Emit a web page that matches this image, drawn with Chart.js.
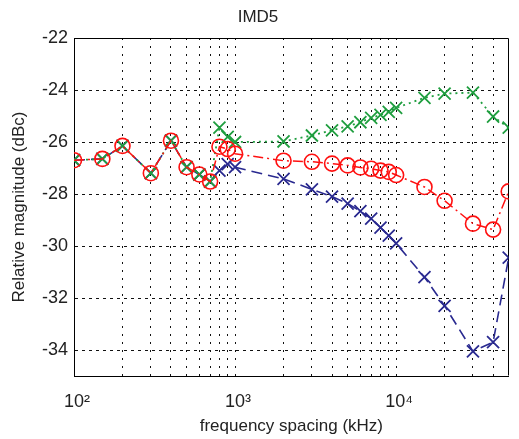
<!DOCTYPE html>
<html>
<head>
<meta charset="utf-8">
<title>IMD5</title>
<script src="https://cdn.jsdelivr.net/npm/chart.js@4.4.1/dist/chart.umd.min.js"></script>
<style>
  html, body { margin: 0; padding: 0; background: #fff; }
  #chart { display: block; }
</style>
</head>
<body>
<canvas id="chart" width="519" height="439"></canvas>
<script>
// Frequency spacing (kHz) shared by all three traces
const freqs = [100, 150, 200, 300, 400, 500, 600, 700, 800, 900, 1000,
    2000, 3000, 4000, 5000, 6000, 7000, 8000, 9000, 10000,
    15000, 20000, 30000, 40000, 50000];

// Relative magnitude (dBc)
const redCircles = [-26.7, -26.65, -26.15, -27.2, -25.95, -26.97, -27.25, -27.52, -26.18, -26.27, -26.45,
    -26.72, -26.76, -26.83, -26.9, -26.98, -27.03, -27.1, -27.15, -27.27,
    -27.73, -28.26, -29.14, -29.37, -27.9];
const blueCrosses = [-26.7, -26.65, -26.15, -27.2, -25.95, -26.97, -27.25, -27.52, -27.1, -26.85, -26.97,
    -27.42, -27.82, -28.1, -28.37, -28.66, -28.95, -29.29, -29.6, -29.9,
    -31.2, -32.3, -34.05, -33.7, -30.45];
const greenCrosses = [-26.7, -26.65, -26.15, -27.2, -25.95, -26.97, -27.25, -27.52, -25.45, -25.8, -26.0,
    -25.98, -25.75, -25.55, -25.4, -25.24, -25.07, -24.96, -24.84, -24.69,
    -24.3, -24.14, -24.1, -25.02, -25.45];

// Axis ticks / grid positions
const xGridTicks = [100, 200, 300, 400, 500, 600, 700, 800, 900,
    1000, 2000, 3000, 4000, 5000, 6000, 7000, 8000, 9000,
    10000, 20000, 30000, 40000];
const yTicks = [-34, -32, -30, -28, -26, -24, -22];

const supers = { 2: '\u00b2', 3: '\u00b3', 4: '\u2074' };

function toPoints(values) {
    return freqs.map((f, i) => ({ x: f, y: values[i] }));
}

// Draw the top and right edges of the axes box
const frameBox = {
    id: 'frameBox',
    beforeDatasetsDraw(chart) {
        const { ctx, chartArea: a } = chart;
        const l = Math.round(a.left) + 0.5;
        const r = Math.round(a.right) - 0.5;
        const t = Math.round(a.top) + 0.5;
        const b = Math.round(a.bottom) - 0.5;
        ctx.save();
        ctx.strokeStyle = '#000';
        ctx.lineWidth = 1;
        ctx.beginPath();
        ctx.moveTo(l, t);
        ctx.lineTo(r, t);
        ctx.lineTo(r, b);
        ctx.stroke();
        ctx.restore();
    }
};

Chart.defaults.font.family = '"Liberation Sans", Arial, Helvetica, sans-serif';
Chart.defaults.color = '#222';

const ctx = document.getElementById('chart').getContext('2d');
new Chart(ctx, {
    type: 'line',
    data: {
        datasets: [
            {
                label: 'red',
                data: toPoints(redCircles),
                borderColor: '#ff1010',
                borderWidth: 1.5,
                borderDash: [10, 4, 2, 4],
                pointStyle: 'circle',
                pointRadius: 7.5,
                pointBorderWidth: 1.6,
                pointBorderColor: '#ff1010',
                pointBackgroundColor: 'rgba(0,0,0,0)',
                fill: false,
                tension: 0
            },
            {
                label: 'green',
                data: toPoints(greenCrosses),
                borderColor: '#1f9e3f',
                borderWidth: 1.8,
                borderDash: [2, 4],
                pointStyle: 'crossRot',
                pointRadius: 8.5,
                pointBorderWidth: 1.8,
                pointBorderColor: '#1f9e3f',
                fill: false,
                tension: 0
            },
            {
                label: 'blue',
                data: toPoints(blueCrosses),
                borderColor: '#2a2a90',
                borderWidth: 1.6,
                borderDash: [11, 6],
                pointStyle: 'crossRot',
                pointRadius: 8.5,
                pointBorderWidth: 1.8,
                pointBorderColor: '#2a2a90',
                fill: false,
                tension: 0
            }
        ]
    },
    options: {
        responsive: false,
        animation: false,
        layout: { padding: { left: 0, right: 3, top: 0, bottom: 0 } },
        plugins: {
            legend: { display: false },
            tooltip: { enabled: false },
            title: {
                display: true,
                text: 'IMD5',
                color: '#222',
                font: { size: 17, weight: 'normal' },
                padding: { top: 7, bottom: 10.6 }
            }
        },
        scales: {
            x: {
                type: 'logarithmic',
                min: 100,
                max: 50000,
                afterBuildTicks: s => { s.ticks = xGridTicks.map(v => ({ value: v })); },
                afterFit: s => { s.height = 63; },
                ticks: {
                    autoSkip: false,
                    maxRotation: 0,
                    padding: 15,
                    labelOffset: 3,
                    font: { size: 18 },
                    callback: v => {
                        const e = Math.round(Math.log10(v));
                        return Math.abs(Math.pow(10, e) - v) < 1e-6 ? '10' + supers[e] : '';
                    }
                },
                grid: { color: '#111', lineWidth: 1, drawTicks: false },
                border: { display: true, color: '#000', width: 1, dash: [2, 6] },
                title: {
                    display: true,
                    text: 'frequency spacing (kHz)',
                    font: { size: 17 },
                    padding: { top: 0, bottom: 2 }
                }
            },
            y: {
                min: -35,
                max: -22,
                afterBuildTicks: s => { s.ticks = yTicks.map(v => ({ value: v })); },
                afterFit: s => { s.width = 74; },
                ticks: {
                    padding: 6,
                    font: { size: 18 },
                    callback: v => String(v)
                },
                grid: { color: '#111', lineWidth: 1, drawTicks: false },
                border: { display: true, color: '#000', width: 1, dash: [3, 4] },
                title: {
                    display: true,
                    text: 'Relative magnitude (dBc)',
                    font: { size: 17 },
                    padding: { top: 9, bottom: 0 }
                }
            }
        }
    },
    plugins: [frameBox]
});
</script>
</body>
</html>
